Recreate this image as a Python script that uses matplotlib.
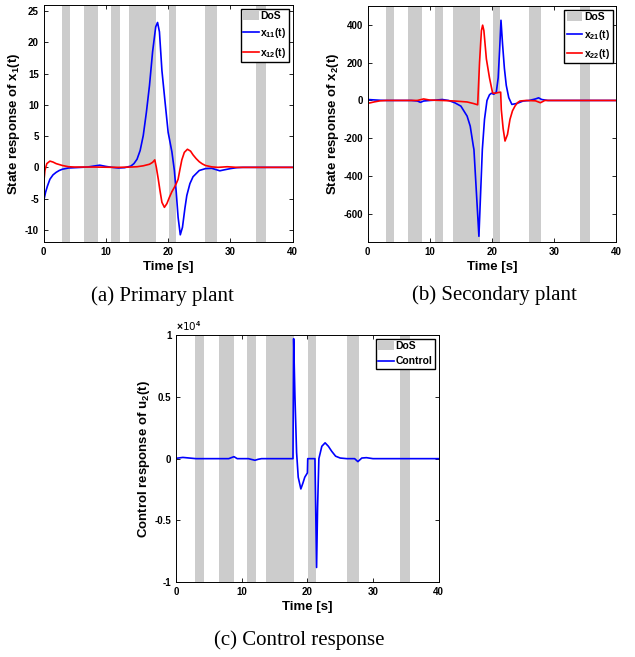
import matplotlib
matplotlib.use('Agg')
import matplotlib.pyplot as plt
from matplotlib.patches import Patch
from matplotlib.lines import Line2D

plt.rcParams['font.family'] = ['Liberation Sans', 'DejaVu Sans']
plt.rcParams['font.weight'] = 'bold'
plt.rcParams['axes.unicode_minus'] = False
plt.rcParams['mathtext.fontset'] = 'custom'
plt.rcParams['mathtext.rm'] = 'Liberation Sans:bold'
plt.rcParams['mathtext.bf'] = 'Liberation Sans:bold'
plt.rcParams['mathtext.default'] = 'rm'

# DoS attack intervals [start, end] in seconds
dos_start = [2.9, 6.5, 10.8, 13.7, 20.1, 26.0, 34.1]
dos_end = [4.3, 8.8, 12.2, 18.0, 21.3, 27.9, 35.7]

# (a) primary plant states
t_x11 = [0, 0.3, 0.6, 1, 1.5, 2, 2.5, 3, 4, 5, 6, 7, 8, 9, 10, 11, 12, 13, 14, 14.5,
         15, 15.5, 16, 16.5, 17, 17.5, 18, 18.3, 18.6, 19, 19.5, 20, 20.6, 21.0, 21.3,
         21.6, 21.95, 22.3, 22.7, 23, 23.5, 24, 25, 26, 27, 28.3, 29, 30, 31, 32, 40]
x11 = [-5.4, -4.0, -3.0, -1.9, -1.2, -0.8, -0.5, -0.3, -0.1, -0.05, 0, 0.05, 0.2, 0.35,
       0.15, 0.0, -0.1, -0.05, 0.2, 0.6, 1.3, 2.7, 5.1, 8.8, 13.1, 18.5, 22.5, 23.2, 21.7,
       15.5, 10.5, 5.6, 2.5, -0.5, -4, -8, -10.8, -9.6, -6.5, -4.5, -2.6, -1.5, -0.5, -0.2,
       -0.15, -0.55, -0.4, -0.2, -0.05, 0, 0]
t_x12 = [0, 0.2, 0.5, 1, 1.5, 2, 3, 4, 5, 8, 12, 14, 15, 16, 17, 17.5, 17.85, 18.1, 18.4,
         18.7, 19.0, 19.4, 19.8, 20.2, 20.6, 21.0, 21.3, 21.6, 21.9, 22.2, 22.6, 23.1, 23.6,
         24, 24.5, 25, 25.5, 26, 27, 28, 29.5, 31, 40]
x12 = [-2.6, -0.5, 0.6, 1.0, 0.85, 0.6, 0.3, 0.1, 0.05, 0.05, 0.0, 0.05, 0.1, 0.25, 0.5,
       0.8, 1.2, 0.0, -1.8, -3.8, -5.6, -6.4, -5.8, -4.8, -3.9, -3.2, -2.6, -1.9, -0.3,
       1.2, 2.4, 2.9, 2.6, 2.0, 1.4, 0.9, 0.55, 0.3, 0.08, 0.0, 0.1, 0, 0]

# (b) secondary plant states
t_x21 = [0, 1, 2, 3, 5, 7, 8, 8.5, 9, 10, 11, 12, 13, 14, 15, 16, 16.5, 17, 17.1, 17.5,
         17.9, 18.45, 18.8, 19.2, 19.6, 19.9, 20.3, 20.7, 21.0, 21.25, 21.45, 21.7, 22.0,
         22.3, 22.7, 23.2, 24, 25, 26, 27, 27.5, 28, 29, 40]
x21 = [5, 3, 1, 0, 0, 0, -3, -10, -3, 0, 2, 5, 0, -12, -30, -83, -136, -242, -260, -490,
       -720, -260, -100, 0, 30, 38, 33, 45, 120, 280, 425, 300, 170, 80, 15, -21, -16, -3,
       0, 8, 14, 5, 0, 0]
t_x22 = [0, 0.5, 1, 2, 3, 8, 9, 10, 12, 14, 16, 17, 17.7, 18.0, 18.3, 18.5, 18.7, 19.1,
         19.6, 20.1, 20.5, 21.0, 21.4, 21.5, 21.8, 22.1, 22.5, 22.9, 23.3, 23.7, 24.1, 24.5,
         25.5, 27, 27.8, 28.5, 40]
x22 = [-15, -12, -8, -2, 0, 0, 8, 2, 0, -3, -8, -16, -23, 200, 370, 399, 370, 220, 120,
       40, 38, 42, 44, -48, -150, -215, -180, -100, -55, -30, -12, -3, 0, -2, -12, 0, 0]

# (c) control input of the secondary plant
t_u2 = [0, 1, 2, 3, 5, 8, 8.8, 9.3, 10, 11, 12, 12.5, 13, 17.8, 17.9, 18.1, 18.35, 18.6,
        19.0, 19.3, 19.6, 20.0, 20.05, 21.15, 21.4, 21.55, 21.75, 22.2, 22.7, 23.2, 23.7,
        24.3, 25, 26, 27.2, 27.7, 28.3, 29, 30, 40]
u2 = [30, 100, 50, 0, 0, 0, 160, 0, 0, 0, -130, -50, 0, 0, 9700, 5000, 500, -1500, -2450,
      -2000, -1500, -1150, 0, 0, -8800, -4000, 0, 1000, 1280, 1000, 600, 200, 50, 0, 0,
      -240, 50, 80, 0, 0]


def shade_dos(ax):
    for s, e in zip(dos_start, dos_end):
        ax.axvspan(s, e, color='#cccccc', lw=0, zorder=0)


def style_axes(ax):
    ax.set_xlim(0, 40)
    ax.set_xticks([0, 10, 20, 30, 40])
    ax.tick_params(direction='in', top=True, right=True, labelsize=7, length=3, width=0.6)
    for sp in ax.spines.values():
        sp.set_linewidth(0.7)
    for lab in ax.get_xticklabels() + ax.get_yticklabels():
        lab.set_fontweight('bold')
    ax.set_xlabel('Time [s]', fontsize=9.5, fontweight='bold', labelpad=3)


def dos_legend(ax, names, colors):
    handles = [Patch(facecolor='#cccccc', edgecolor='none')]
    handles += [Line2D([], [], color=c, lw=1.2) for c in colors]
    ax.legend(handles, ['DoS'] + names, loc='upper right',
              prop={'weight': 'bold', 'size': 7.5}, frameon=True, fancybox=False,
              edgecolor='black', framealpha=1, borderpad=0.25, labelspacing=0.5,
              handlelength=1.5, handleheight=0.9, handletextpad=0.15, borderaxespad=0.35)


fig = plt.figure(figsize=(6.35, 6.57), dpi=100)

# (a) Primary plant
ax1 = fig.add_axes([0.0688, 0.6312, 0.392, 0.3612])
shade_dos(ax1)
ax1.plot(t_x11, x11, color='blue', lw=1.2)
ax1.plot(t_x12, x12, color='red', lw=1.2)
ax1.set_ylim(-12, 26)
ax1.set_yticks([-10, -5, 0, 5, 10, 15, 20, 25])
style_axes(ax1)
ax1.set_ylabel('State response of x$_{1}$(t)', fontsize=9.5, fontweight='bold', labelpad=2)
dos_legend(ax1, ['x$_{11}$(t)', 'x$_{12}$(t)'], ['blue', 'red'])

# (b) Secondary plant
ax2 = fig.add_axes([0.579, 0.6317, 0.3915, 0.359])
shade_dos(ax2)
ax2.plot(t_x21, x21, color='blue', lw=1.2)
ax2.plot(t_x22, x22, color='red', lw=1.2)
ax2.set_ylim(-750, 500)
ax2.set_yticks([-600, -400, -200, 0, 200, 400])
style_axes(ax2)
ax2.set_ylabel('State response of x$_{2}$(t)', fontsize=9.5, fontweight='bold', labelpad=2)
dos_legend(ax2, ['x$_{21}$(t)', 'x$_{22}$(t)'], ['blue', 'red'])

# (c) Control response
ax3 = fig.add_axes([0.2776, 0.1137, 0.413, 0.3764])
shade_dos(ax3)
ax3.plot(t_u2, [v / 1e4 for v in u2], color='blue', lw=1.2)
ax3.set_ylim(-1, 1)
ax3.set_yticks([-1, -0.5, 0, 0.5, 1])
ax3.set_yticklabels(['-1', '-0.5', '0', '0.5', '1'])
style_axes(ax3)
ax3.set_ylabel('Control response of u$_{2}$(t)', fontsize=9.5, fontweight='bold', labelpad=2)
ax3.text(0.0, 1.01, '$\\times$10$^{4}$', transform=ax3.transAxes, fontsize=7.5,
         fontweight='normal', va='bottom', ha='left', family='DejaVu Sans')
dos_legend(ax3, ['Control'], ['blue'])

cap = dict(fontsize=15, family='Liberation Serif', fontweight='normal', ha='center', va='center')
fig.text(162 / 635, 1 - 296 / 657, '(a) Primary plant', **cap)
fig.text(494 / 635, 1 - 295 / 657, '(b) Secondary plant', **cap)
fig.text(299 / 635, 1 - 640 / 657, '(c) Control response', **cap)

fig.savefig('out.png', dpi=100)
